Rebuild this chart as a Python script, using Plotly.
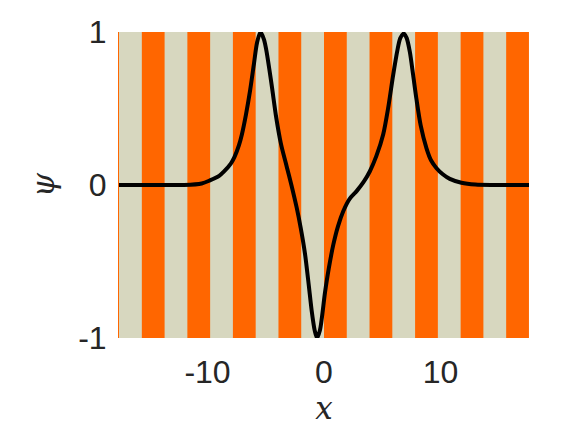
import plotly.graph_objects as go

# curve
x_vals = [-17.6, -14, -12, -10.5, -9.8, -9, -8.6, -8.0, -7.7, -7.3, -7.05, -6.7,
          -6.34, -6.0, -5.75, -5.45, -5.15, -4.95, -4.7, -4.45, -4.1, -3.7, -3.2,
          -2.8, -2.34, -2.0, -1.63, -1.3, -1.06, -0.8, -0.6, -0.35, 0.09, 0.4, 0.8,
          1.2, 1.66, 2.2, 2.8, 3.4, 3.94, 4.5, 5.08, 5.5, 5.94, 6.3, 6.55, 6.85,
          7.1, 7.37, 7.65, 7.94, 8.3, 8.8, 9.2, 9.66, 10.2, 10.8, 11.8, 13, 14.5, 17.6]
psi_vals = [0, 0, 0.0, 0.01, 0.03, 0.06, 0.087, 0.14, 0.18, 0.26, 0.33, 0.46,
            0.62, 0.80, 0.93, 1.0, 0.95, 0.88, 0.76, 0.63, 0.44, 0.27, 0.12,
            0.0, -0.15, -0.28, -0.45, -0.66, -0.82, -0.95, -1.0, -0.95, -0.70, -0.55, -0.39,
            -0.27, -0.17, -0.09, -0.04, 0.02, 0.09, 0.19, 0.33, 0.50, 0.72, 0.88, 0.96, 0.99,
            0.96, 0.87, 0.72, 0.56, 0.39, 0.24, 0.16, 0.11, 0.07, 0.04, 0.015, 0.003, 0, 0]

# lattice stripes (orange wells), left edges and width
orange_left = [-15.64, -11.73, -7.82, -3.91, 0, 3.91, 7.82, 11.73, 15.64]
stripe_width = 1.955
x_range = [-17.6, 17.6]
x_ticks = [-10, 0, 10]
y_ticks = [-1, 0, 1]

ORANGE = "#ff6600"
BEIGE = "#d7d7bf"
TEXT = "#262626"

fig = go.Figure()

for x0 in orange_left:
    fig.add_shape(type="rect", xref="x", yref="paper", x0=x0, x1=x0 + stripe_width,
                  y0=0, y1=1, fillcolor=ORANGE, line_width=0, layer="below")

fig.add_trace(go.Scatter(x=x_vals, y=psi_vals, mode="lines",
                         line=dict(color="black", width=4, shape="spline", smoothing=0.8),
                         showlegend=False, hoverinfo="skip"))

# page body adds an 8px offset, margins compensate for it
fig.update_layout(
    width=584, height=438,
    margin=dict(l=111, r=63, t=24, b=108),
    paper_bgcolor="white",
    plot_bgcolor=BEIGE,
    font=dict(family="Liberation Sans, Arial, sans-serif", size=32, color=TEXT),
)
fig.update_xaxes(range=x_range, tickvals=x_ticks, ticktext=["-10", "0", "10"],
                 showgrid=False, zeroline=False, showline=False, ticks="",
                 ticklabelstandoff=12, automargin=False,
                 title=dict(text="x", font=dict(family="DejaVu Serif, serif", size=31,
                                                 style="italic"), standoff=4))
fig.update_yaxes(range=[-1, 1], tickvals=y_ticks, ticktext=["-1", "0", "1"],
                 showgrid=False, zeroline=False, showline=True, linecolor=ORANGE,
                 linewidth=1, ticks="", ticklabelstandoff=5, automargin=False,
                 title=dict(text="ψ", font=dict(family="DejaVu Serif, serif", size=31,
                                                 style="italic"), standoff=14))

fig.write_html("out.html")
